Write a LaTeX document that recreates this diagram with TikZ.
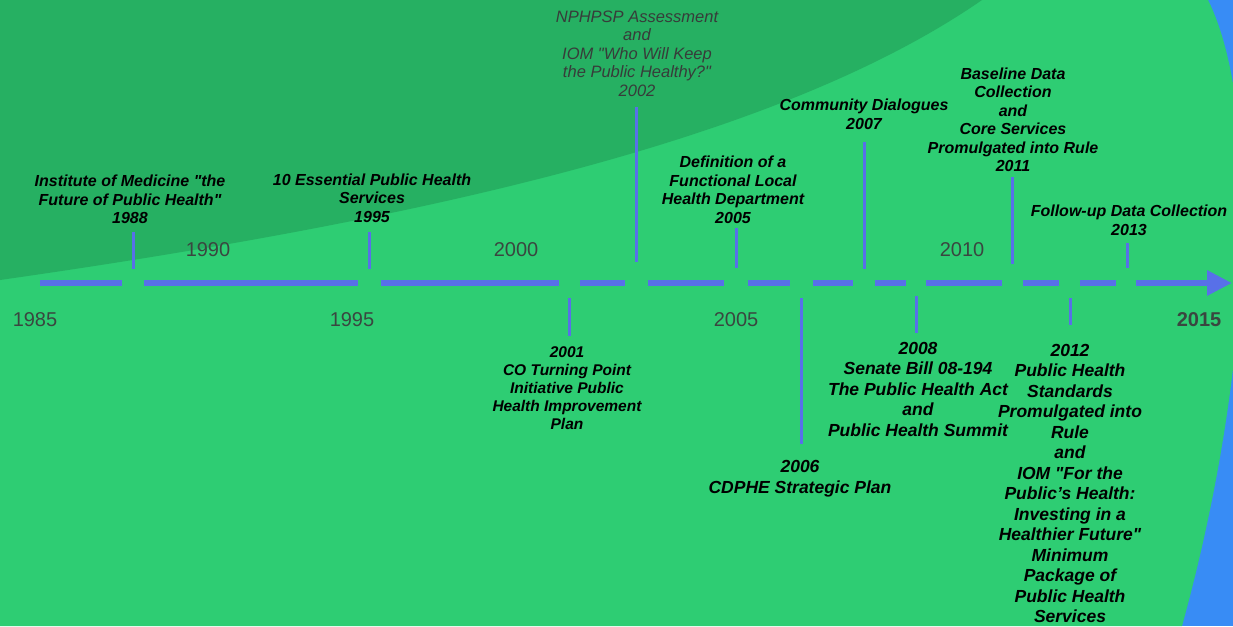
\documentclass[tikz,border=0pt]{standalone}
\usepackage{fontspec}
\setmainfont{Liberation Sans}[Ligatures=TeXOff]
\usetikzlibrary{arrows.meta}
\definecolor{lgreen}{RGB}{46,205,115}
\definecolor{dgreen}{RGB}{38,176,98}
\definecolor{bgblue}{RGB}{56,140,245}
\definecolor{tlblue}{RGB}{88,112,232}
\definecolor{yrgray}{RGB}{58,70,64}
\definecolor{nphgray}{RGB}{55,60,58}
\begin{document}
\begin{tikzpicture}[x=1pt,y=-1pt,
  axisdash/.style={draw=tlblue,line width=6pt},
  tickline/.style={draw=tlblue,line width=3pt},
  evt/.style={align=center,inner sep=0pt,text=black,font=\fontsize{16}{18.5}\selectfont\bfseries\itshape},
  evtbig/.style={evt,font=\fontsize{17.5}{20.5}\selectfont\bfseries\itshape},
  evtsmall/.style={evt,font=\fontsize{15.5}{18}\selectfont\bfseries\itshape},
  evtgray/.style={evt,text=nphgray,font=\fontsize{16.5}{18.5}\selectfont\itshape},
  yr/.style={inner sep=0pt,text=yrgray,font=\fontsize{20}{24}\selectfont},
  yrbold/.style={yr,font=\fontsize{20}{24}\selectfont\bfseries}]
\useasboundingbox (0,0) rectangle (1233,626);
% background regions
\fill[bgblue] (0,0) rectangle (1233,626);
\fill[lgreen] (0,0) -- (1208,0) .. controls (1258,100) and (1258,350) .. (1182,626) -- (0,626) -- cycle;
\fill[dgreen] (0,0) -- (0,280) .. controls (420,220) and (780,140) .. (982,0) -- cycle;
% axis dashes
\foreach \i/\a/\b in {1/40/122,2/144/358,3/381/559,4/580/625,5/648/724,6/748/790,7/813/853,8/875/906,9/926/1002,10/1023/1059,11/1080/1116}{
  \coordinate (da\i) at (\a,283);
  \coordinate (db\i) at (\b,283);
  \draw[axisdash] (da\i) -- (db\i);
}
\coordinate (da12) at (1136,283);
\coordinate (db12) at (1232,283);
\draw[axisdash,-{Triangle[length=25pt,width=24pt]}] (da12) -- (db12);
% ticks
\foreach \n/\x/\t/\b in {t1988/133/232/269,t1995/369/232/269,t2002/636/107/262,t2005/736/228/268,t2007/864/142/269,t2011/1012/177/264,t2013/1127/243/268,
  t2001/569/298/336,t2006/801/298/444,t2008/916/296/333,t2012/1070/298/325}{
  \coordinate (\n a) at (\x,\t);
  \coordinate (\n b) at (\x,\b);
  \draw[tickline] (\n a) -- (\n b);
}
% year labels
\node[yr] (y1985) at (35,320) {1985};
\node[yr] (y1990) at (208,250) {1990};
\node[yr] (y1995) at (352,320) {1995};
\node[yr] (y2000) at (516,250) {2000};
\node[yr] (y2005) at (736,320) {2005};
\node[yr] (y2010) at (962,250) {2010};
\node[yrbold] (y2015) at (1199,320) {2015};
% event labels above
\node[evt] (e1988) at (130,199.5) {Institute of Medicine "the\\Future of Public Health"\\1988};
\node[evt] (e1995) at (372,198) {10 Essential Public Health\\Services\\1995};
\node[evtgray] (e2002) at (637,53.5) {NPHPSP Assessment\\and\\IOM "Who Will Keep\\the Public Healthy?"\\2002};
\node[evt] (e2005) at (733,190) {Definition of a\\Functional Local\\Health Department\\2005};
\node[evt] (e2007) at (864,114.5) {Community Dialogues\\2007};
\node[evt] (e2011) at (1013,120) {Baseline Data\\Collection\\and\\Core Services\\Promulgated into Rule\\2011};
\node[evt] (e2013) at (1129,220.5) {Follow-up Data Collection\\2013};
% event labels below
\node[evtsmall] (e2001) at (567,388) {2001\\CO Turning Point\\Initiative Public\\Health Improvement\\Plan};
\node[evtbig] (e2006) at (800,478.5) {2006\\CDPHE Strategic Plan};
\node[evtbig] (e2008) at (918,389) {2008\\Senate Bill 08-194\\The Public Health Act\\and\\Public Health Summit};
\node[evtbig] (e2012) at (1070,483.5) {2012\\Public Health\\Standards\\Promulgated into\\Rule\\and\\IOM "For the\\Public’s Health:\\Investing in a\\Healthier Future"\\Minimum\\Package of\\Public Health\\Services};
\end{tikzpicture}
\end{document}
